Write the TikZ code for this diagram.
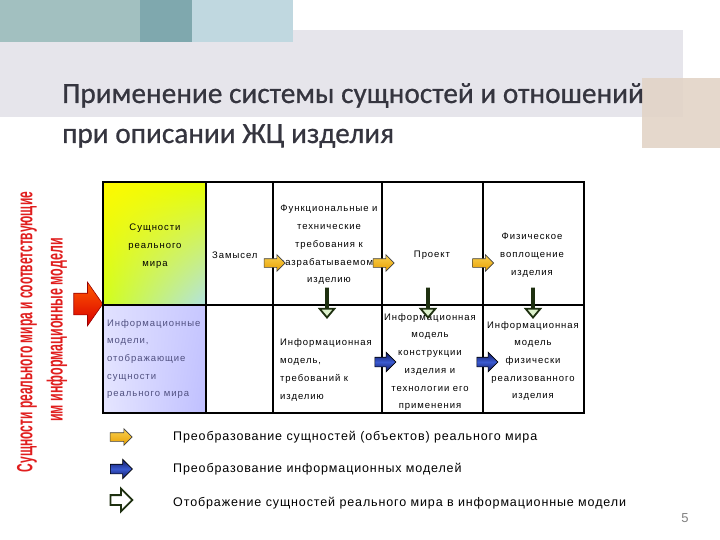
\documentclass[tikz,border=0pt]{standalone}
\usepackage{fontspec}
\setmainfont{Liberation Sans}
\newfontfamily\titlefont[FakeBold=0.6]{Carlito}
\newfontfamily\cellfont[LetterSpace=10]{Liberation Sans}
\newfontfamily\legendfont[LetterSpace=7]{Liberation Sans}
\newfontfamily\sidefont{Liberation Sans Bold}
\usetikzlibrary{shapes.arrows,shadings}

\definecolor{tealA}{HTML}{A2C0C0}
\definecolor{tealB}{HTML}{7FA8AE}
\definecolor{paleblue}{HTML}{C0D8E0}
\definecolor{bandgrey}{HTML}{E6E5EB}
\definecolor{beige}{HTML}{E2D4C7}
\definecolor{titlegrey}{HTML}{35353F}
\definecolor{sidered}{HTML}{E01E1E}
\definecolor{modeltext}{HTML}{505080}
\definecolor{goldA}{HTML}{FAD050}
\definecolor{goldB}{HTML}{E8A000}
\definecolor{navy}{HTML}{0E1660}
\definecolor{stripe}{HTML}{3A5AD0}
\definecolor{paleleaf}{HTML}{DDF2CC}
\definecolor{darkleaf}{HTML}{1E3010}

\tikzset{
  grid/.style={line width=2pt},
  cell/.style={font=\cellfont\fontsize{9.5}{17.7}\selectfont, inner sep=0pt, align=center},
  modelcell/.style={cell, align=left, anchor=west},
  legend/.style={font=\legendfont\fontsize{12.5}{15}\selectfont, inner sep=0pt, anchor=west},
  sidetext/.style={rotate=90, inner sep=0pt, text=sidered, font=\sidefont\fontsize{22}{24}\selectfont},
  goldarrow/.style={single arrow, draw=black!75, line width=0.6pt, top color=goldA, bottom color=goldB,
    inner xsep=0pt, inner ysep=4pt, single arrow head extend=4pt, minimum height=21pt},
  bluearrow/.style={single arrow, draw=black, line width=0.6pt, top color=navy, bottom color=navy, middle color=stripe,
    inner xsep=0pt, inner ysep=4.5pt, single arrow head extend=5pt, minimum height=21pt},
  leafarrow/.style={single arrow, draw=darkleaf, line width=1.8pt, fill=paleleaf,
    inner xsep=0pt, inner ysep=4pt, single arrow head extend=6.5pt, single arrow tip angle=80, minimum height=29pt}
}

\begin{document}
\begin{tikzpicture}[x=1pt,y=-1pt]
  \useasboundingbox (0,0) rectangle (720,540);

  % Background blocks
  \fill[bandgrey] (0,30) rectangle (683,117);
  \fill[tealA] (0,0) rectangle (140,42);
  \fill[tealB] (140,0) rectangle (192,42);
  \fill[paleblue] (192,0) rectangle (293,42);
  \fill[beige, opacity=0.9] (642,78) rectangle (720,148);

  % Title
  \node[anchor=base west, inner sep=0pt, font=\titlefont\fontsize{29.3}{34}\selectfont, text=titlegrey]
    (title1) at (62,103) {Применение системы сущностей и отношений};
  \node[anchor=base west, inner sep=0pt, font=\titlefont\fontsize{29.3}{34}\selectfont, text=titlegrey]
    (title2) at (62,143) {при описании ЖЦ изделия};

  % Side caption
  \node[sidetext] (side1) at (27,332) {\scalebox{0.545}[1]{Сущности реального мира и соответствующие}};
  \node[sidetext] (side2) at (57,330) {\scalebox{0.567}[1]{им информационные модели}};
  \node[single arrow, draw=red!60!black, line width=0.6pt, top color=orange!70!red, bottom color=red!85!black,
    inner xsep=0pt, inner ysep=10.5pt, single arrow head extend=11pt, single arrow tip angle=110,
    minimum height=29pt] (bigarrow) at (84.5,304) {};

  % First column shading
  \shade[upper left=yellow!95!orange, upper right=yellow!90!green, lower left=yellow!80!green!90!white,
    lower right=cyan!25!teal!30!white] (103,182) rectangle (206,305);
  \shade[upper left=blue!12!white, upper right=blue!22!white, lower left=blue!10!white,
    lower right=blue!25!white] (103,305) rectangle (206,413);

  % Draw the table
  \draw[grid] (103,182) rectangle (584,413);
  \draw[grid] (103,305) -- (584,305);
  \foreach \x in {206,273,382,483}
    \draw[grid] (\x,182) -- (\x,413);

  % Real world row
  \node[cell] (world) at (155,246) {Сущности\\реального\\мира};
  \node[cell, anchor=west] (idea) at (212,255) {Замысел};
  \node[cell] (reqs) at (329,245) {Функциональные и\\технические\\требования к\\разрабатываемому\\изделию};
  \node[cell] (project) at (432,255) {Проект};
  \node[cell] (product) at (532,255) {Физическое\\воплощение\\изделия};

  % Model row
  \node[modelcell, text=modeltext] (models) at (107,359) {Информационные\\модели,\\отображающие\\сущности\\реального мира};
  \node[modelcell] (reqmodel) at (280,370) {Информационная\\модель,\\требований к\\изделию};
  \node[cell] (designmodel) at (430,362) {Информационная\\модель\\конструкции\\изделия и\\технологии его\\применения};
  \node[cell] (productmodel) at (533,361) {Информационная\\модель\\физически\\реализованного\\изделия};

  % Arrows in the table
  \foreach \x in {272.5,381.5,481}
    \node[goldarrow] at (\x,263) {};
  \foreach \x in {327,428,533}
    \node[leafarrow, shape border rotate=270] at (\x,302.5) {};
  \foreach \x in {383,485}
    \node[bluearrow] at (\x,362) {};

  % Legend
  \node[goldarrow, minimum height=22pt] (keygold) at (119,437) {};
  \node[bluearrow, minimum height=22pt] (keyblue) at (119,469) {};
  \node[leafarrow, fill=white, minimum height=22pt, single arrow tip angle=90] (keyleaf) at (119,500) {};
  \node[legend] (txtgold) at (173,437) {Преобразование сущностей (объектов) реального мира};
  \node[legend] (txtblue) at (173,469) {Преобразование информационных моделей};
  \node[legend] (txtleaf) at (173,503) {Отображение сущностей реального мира в информационные модели};

  \node[inner sep=0pt, text=black!50, font=\fontsize{13}{15}\selectfont] (page) at (685,518) {5};
\end{tikzpicture}
\end{document}
